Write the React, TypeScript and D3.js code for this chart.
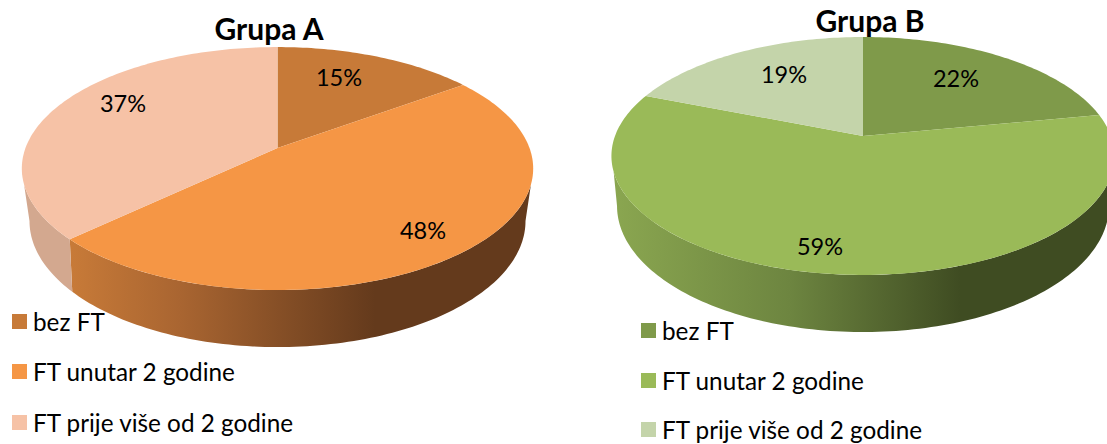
import React from 'react'
import * as d3 from 'd3'

const width = 1107
const height = 444
const font = 'Lato, sans-serif'

const categories = ['bez FT', 'FT unutar 2 godine', 'FT prije više od 2 godine']
const valuesA = [15, 48, 37]
const valuesB = [22, 59, 19]
const colorsA = ['#c77a38', '#f59645', '#f6c2a6']
const colorsB = ['#7f9a4a', '#9aba58', '#c4d4aa']

const layoutA = {
  id: 'a', title: 'Grupa A', titleX: 269, titleY: 40,
  top: { cx: 277.5, cy: 148, rx: 252, ry: 118, k: 0.169 },
  low: { cx: 277.5, cy: 195.8, rx: 243, ry: 121, k: 0.2 },
  labels: [[339, 86], [423, 239], [123, 112]],
  legendX: 12, legendY: [314, 364, 415],
  wallStops: [['#c77a38', 72], ['#a96531', 180], ['#643a1c', 375]],
  sideColor: '#d3a88f',
}
const layoutB = {
  id: 'b', title: 'Grupa B', titleX: 870, titleY: 32,
  top: { cx: 863, cy: 136, rx: 248, ry: 115.6, k: 0.168 },
  low: { cx: 863, cy: 180.8, rx: 241, ry: 121, k: 0.2 },
  labels: [[956, 87], [820, 255], [784, 83]],
  legendX: 641, legendY: [323, 373, 422],
  wallStops: [['#8aa650', 615], ['#6d8540', 790], ['#3f4c22', 960]],
  sideColor: '#8aa650',
}

type Layout = typeof layoutA
type Rim = Layout['top']

// flat circle seen in perspective, angle 0 is top and goes clockwise
const project = (r: Rim, a: number): [number, number] => {
  const s = 1 / (1 + r.k * Math.cos(a))
  return [r.cx + r.rx * Math.sin(a) * s, r.cy - r.ry * Math.cos(a) * s]
}

const line = d3.line()
const sample = (a0: number, a1: number) => {
  const n = Math.max(2, Math.ceil(Math.abs(a1 - a0) / 0.02))
  return d3.range(n + 1).map(i => a0 + (a1 - a0) * i / n)
}

function Pie3D({ l, values, colors }: { l: Layout, values: number[], colors: string[] }) {
  const arcs = d3.pie<number>().sort(null)(values)
  // the side leaves the top rim a little below its widest point
  const topStart = Math.PI / 2 + Math.asin(l.top.k) + 0.13
  const lowStart = Math.PI / 2 + Math.asin(l.low.k)
  const x0 = l.wallStops[0][1] as number
  const x1 = l.wallStops[2][1] as number
  const maxSpan = d3.max(arcs, e => e.endAngle - e.startAngle)

  return (
    <g>
      <defs>
        <linearGradient id={`wall-${l.id}`} gradientUnits="userSpaceOnUse" x1={x0} x2={x1} y1={0} y2={0}>
          {l.wallStops.map((s, i) => (
            <stop key={i} offset={((s[1] as number) - x0) / (x1 - x0)} stopColor={s[0] as string} />
          ))}
        </linearGradient>
      </defs>

      {arcs.map((d, i) => {
        const t0 = Math.max(d.startAngle, topStart)
        const t1 = Math.min(d.endAngle, 2 * Math.PI - topStart)
        const b0 = Math.max(d.startAngle, lowStart)
        const b1 = Math.min(d.endAngle, 2 * Math.PI - lowStart)
        if (t1 <= t0) return null
        const pts = [
          ...sample(t0, t1).map(a => project(l.top, a)),
          ...sample(b1, b0).map(a => project(l.low, a)),
        ]
        const isMain = d.endAngle - d.startAngle === maxSpan
        return <path key={i} d={line(pts) + 'Z'} fill={isMain ? `url(#wall-${l.id})` : l.sideColor} />
      })}

      {arcs.map((d, i) => {
        const pts = [[l.top.cx, l.top.cy] as [number, number], ...sample(d.startAngle, d.endAngle).map(a => project(l.top, a))]
        return <path key={i} d={line(pts) + 'Z'} fill={colors[i]} />
      })}

      <text x={l.titleX} y={l.titleY} textAnchor="middle" fontFamily={font} fontWeight={700} fontSize={30} fill="#000">{l.title}</text>

      {arcs.map((d, i) => (
        <text key={i} x={l.labels[i][0]} y={l.labels[i][1]} textAnchor="middle" fontFamily={font} fontSize={23.5} fill="#000">
          {values[i]}%
        </text>
      ))}

      {categories.map((c, i) => (
        <g key={c}>
          <rect x={l.legendX} y={l.legendY[i]} width={15} height={15} fill={colors[i]} />
          <text x={l.legendX + 21} y={l.legendY[i] + 16.5} fontFamily={font} fontSize={24.3} fill="#000">{c}</text>
        </g>
      ))}
    </g>
  )
}

export default function App() {
  return (
    <svg width={width} height={height} style={{ position: 'absolute', left: 0, top: 0, background: '#fff' }}>
      <Pie3D l={layoutA} values={valuesA} colors={colorsA} />
      <Pie3D l={layoutB as Layout} values={valuesB} colors={colorsB} />
    </svg>
  )
}
